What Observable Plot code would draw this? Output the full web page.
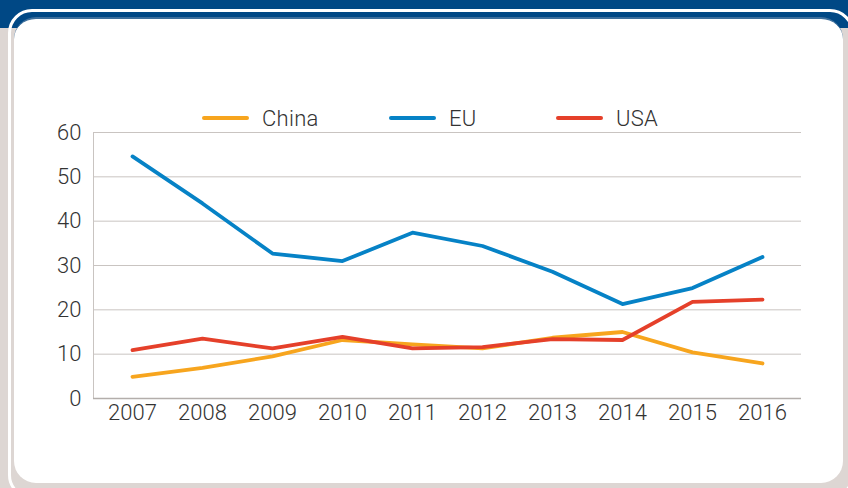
<!DOCTYPE html>
<html>
<head>
<meta charset="utf-8">
<script src="https://cdn.jsdelivr.net/npm/d3@7"></script>
<script src="https://cdn.jsdelivr.net/npm/@observablehq/plot@0.6"></script>
<style>
  html, body { margin: 0; padding: 0; }
  body {
    width: 848px; height: 488px; overflow: hidden; position: relative;
    background: linear-gradient(to bottom, #004885 0px, #004885 28px, #ddd6d3 28px);
    font-family: Roboto, "Open Sans", sans-serif;
  }
  #outer {
    position: absolute; left: 8px; top: 9px; width: 846px; height: 490px;
    box-sizing: border-box; border: 3px solid #fff; border-radius: 24px;
  }
  #inner {
    position: absolute; left: 14px; top: 17px; width: 829px; height: 466px;
    box-sizing: border-box; background: #fff; border-radius: 22px;
    border-top: 2px solid #3d6f9c;
  }
  #chart { position: absolute; left: 0; top: 0; width: 848px; }
  #legend { position: relative; height: 100px; }
  .item { position: absolute; top: 104px; height: 28px; display: flex; align-items: center; }
  .sw { width: 47px; height: 4px; border-radius: 2px; margin-right: 13px; }
  .lab { font-size: 22px; font-weight: 300; color: #333; letter-spacing: 0.3px; }
  #plot { position: absolute; left: 0; top: 100px; }
</style>
</head>
<body>
<div id="outer"></div>
<div id="inner"></div>
<div id="chart">
  <div id="legend"></div>
  <div id="plot"></div>
</div>
<script>
const years = ["2007","2008","2009","2010","2011","2012","2013","2014","2015","2016"];
const china = [4.9, 6.9, 9.5, 13.2, 12.2, 11.3, 13.7, 15.0, 10.4, 7.9];
const eu    = [54.6, 44.0, 32.7, 31.0, 37.4, 34.4, 28.6, 21.3, 24.9, 31.9];
const usa   = [10.9, 13.5, 11.3, 13.9, 11.3, 11.6, 13.4, 13.2, 21.8, 22.3];
const seriesNames = ["China", "EU", "USA"];
const seriesColors = ["#f7a51e", "#0682c6", "#e5402a"];
const yTicks = [0, 10, 20, 30, 40, 50, 60];

const rows = [];
[china, eu, usa].forEach((vals, si) => {
  vals.forEach((v, i) => rows.push({year: years[i], value: v, series: seriesNames[si]}));
});

// legend
const legendX = [202, 389, 556];
const legend = document.getElementById("legend");
seriesNames.forEach((name, i) => {
  const it = document.createElement("div");
  it.className = "item";
  it.style.left = legendX[i] + "px";
  it.innerHTML = `<div class="sw" style="background:${seriesColors[i]}"></div><span class="lab">${name}</span>`;
  legend.appendChild(it);
});

const chart = Plot.plot({
  width: 848,
  height: 340,
  marginLeft: 93,
  marginRight: 47,
  marginTop: 32,
  marginBottom: 42,
  style: {fontFamily: "Roboto, sans-serif", fontSize: "22px", fontWeight: 300, color: "#333", background: "transparent", overflow: "visible"},
  x: {type: "point", domain: years, padding: 0.5, label: null},
  y: {domain: [0, 60], ticks: yTicks, label: null},
  color: {domain: seriesNames, range: seriesColors},
  marks: [
    Plot.gridY(yTicks.filter(d => d > 0), {stroke: "#c9c4c1", strokeOpacity: 1, strokeWidth: 1}),
    Plot.frame({anchor: "left", stroke: "#c9c4c1", strokeOpacity: 1}),
    Plot.ruleY([0], {stroke: "#b3aeab", strokeWidth: 1.5}),
    Plot.axisY({ticks: yTicks, tickSize: 0, tickPadding: 12, fill: "#333", label: null}),
    Plot.axisX({tickSize: 0, tickPadding: 6, fill: "#333", label: null}),
    Plot.lineY(rows, {x: "year", y: "value", stroke: "series", strokeWidth: 3.8, strokeLinejoin: "round", strokeLinecap: "round"})
  ]
});
document.getElementById("plot").appendChild(chart);
</script>
</body>
</html>
